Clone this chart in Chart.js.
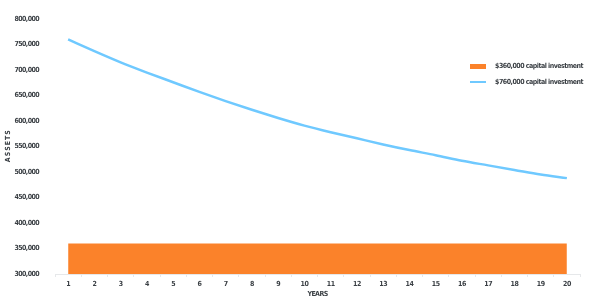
<!DOCTYPE html>
<html>
<head>
<meta charset="utf-8">
<script src="https://cdn.jsdelivr.net/npm/chart.js@4"></script>
<style>
    body { margin: 0; background: #fff; }
    #wrap { position: relative; width: 600px; height: 300px; }
    #legend { position: absolute; left: 470px; top: 58px; font-family: 'DejaVu Sans Condensed', 'Liberation Sans Narrow', sans-serif; font-size: 7px; font-weight: bold; letter-spacing: -0.5px; color: #3a3f44; white-space: nowrap; }
    .item { display: flex; align-items: center; height: 16px; }
    .swatch { width: 16px; margin-right: 9px; flex: none; }
</style>
</head>
<body>
<div id="wrap">
    <canvas id="myChart" width="600" height="300"></canvas>
    <div id="legend"></div>
</div>
<script>
const years = ['1', '2', '3', '4', '5', '6', '7', '8', '9', '10',
    '11', '12', '13', '14', '15', '16', '17', '18', '19', '20'];
const smallInvestment = [360000, 360000, 360000, 360000, 360000, 360000, 360000, 360000, 360000, 360000,
    360000, 360000, 360000, 360000, 360000, 360000, 360000, 360000, 360000, 360000];
const largeInvestment = [760000, 737000, 715000, 695000, 676000, 657000, 639000, 622000, 606000, 591000,
    578000, 566000, 554000, 543000, 533000, 522000, 513000, 504000, 495000, 488000];
const seriesLabels = ['$360,000 capital investment', '$760,000 capital investment'];
const seriesColors = ['#fb822a', '#6fc9ff'];

const FONT = "'DejaVu Sans Condensed', 'Liberation Sans Narrow', sans-serif";
const TEXT = '#3a3f44';
const tickFont = {family: FONT, size: 7, weight: 'bold'};

// tighten canvas text a little, the original uses a narrow typeface
const tightText = {
    id: 'tightText',
    beforeDraw: function (chart) {
        chart.ctx.letterSpacing = '-0.6px';
    }
};

var ctx = document.getElementById('myChart').getContext('2d');
var myChart = new Chart(ctx, {
    type: 'line',
    data: {
        labels: years,
        datasets: [{
            label: seriesLabels[0],
            data: smallInvestment,
            borderColor: seriesColors[0],
            backgroundColor: seriesColors[0],
            borderWidth: 0,
            pointRadius: 0,
            fill: 'start'
        }, {
            label: seriesLabels[1],
            data: largeInvestment,
            borderColor: seriesColors[1],
            backgroundColor: seriesColors[1],
            borderWidth: 2.5,
            pointRadius: 0,
            cubicInterpolationMode: 'monotone',
            fill: false
        }]
    },
    options: {
        responsive: false,
        animation: false,
        layout: {
            padding: {top: 19, right: 20, bottom: 0, left: 0}
        },
        scales: {
            x: {
                offset: true,
                afterFit: function (s) { s.height = 26; },
                grid: {
                    offset: true,
                    drawOnChartArea: false,
                    tickLength: 3,
                    color: '#e6e8ea'
                },
                border: {display: true, color: '#e6e8ea'},
                ticks: {
                    padding: 3,
                    color: TEXT,
                    font: tickFont,
                    maxRotation: 0
                },
                title: {
                    display: true,
                    text: 'YEARS',
                    color: TEXT,
                    font: tickFont,
                    padding: {top: 0, bottom: 2}
                }
            },
            y: {
                min: 300000,
                max: 800000,
                afterFit: function (s) { s.width = 55; },
                grid: {display: false},
                border: {display: false},
                ticks: {
                    stepSize: 50000,
                    padding: 8,
                    color: TEXT,
                    font: tickFont,
                    callback: function (val) {
                        return val.toLocaleString('en-US');
                    }
                },
                title: {
                    display: true,
                    text: 'A S S E T S',
                    color: TEXT,
                    font: tickFont,
                    padding: {top: 4, bottom: 0}
                }
            }
        },
        plugins: {
            legend: {display: false},
            tooltip: {enabled: false}
        }
    },
    plugins: [tightText]
});

// legend drawn as html so it can sit inside the plot
const legend = document.getElementById('legend');
seriesLabels.forEach(function (label, i) {
    const row = document.createElement('div');
    row.className = 'item';
    const sw = document.createElement('span');
    sw.className = 'swatch';
    sw.style.height = i === 0 ? '5px' : '2.5px';
    sw.style.background = seriesColors[i];
    const txt = document.createElement('span');
    txt.textContent = label;
    row.appendChild(sw);
    row.appendChild(txt);
    legend.appendChild(row);
});
</script>
</body>
</html>
